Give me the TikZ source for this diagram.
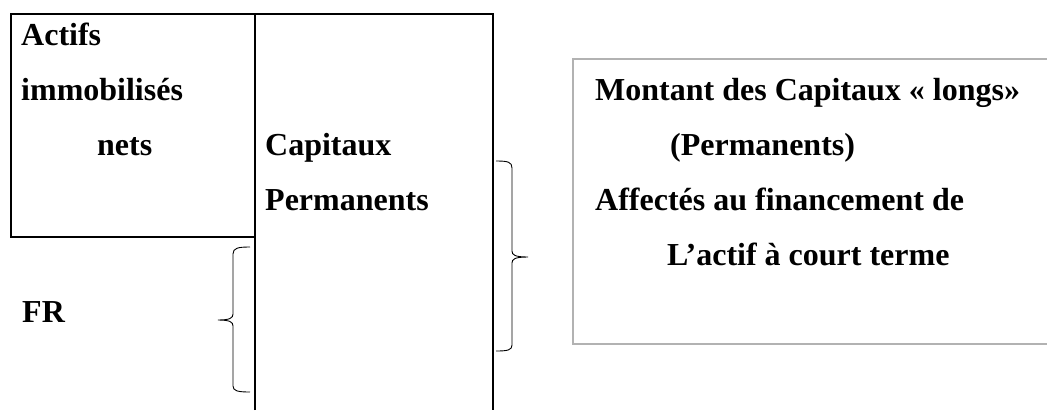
\documentclass[tikz,border=0pt]{standalone}
\usepackage{fontspec}
\setmainfont{Liberation Serif}
\begin{document}
\begin{tikzpicture}[x=1pt,y=-1pt,
  lbl/.style={anchor=base west,inner sep=0pt,font=\fontsize{32}{38}\selectfont\bfseries},
  frame/.style={line width=1.5pt,black},
  gframe/.style={line width=1.6pt,color=black!30},
  brc/.style={line width=0.9pt,black}]
\useasboundingbox (0,0) rectangle (1047,410);
% boxes
\draw[frame] (11,14) rectangle (255,237);
\draw[frame] (255,410) -- (255,14) -- (493,14) -- (493,410);
\draw[gframe] (1047,59) -- (573,59) -- (573,344) -- (1047,344);
% braces
\draw[brc] (250,247) .. controls (238,247) and (233,248) .. (233,254) -- (233,314)
  .. controls (233,318) and (230,320) .. (218,320)
  .. controls (230,320) and (233,322) .. (233,326) -- (233,386)
  .. controls (233,391) and (238,392) .. (250,392);
\draw[brc] (496,161) .. controls (508,161) and (512,162) .. (512,168) -- (512,251)
  .. controls (512,255) and (515,257) .. (528,257)
  .. controls (515,257) and (512,259) .. (512,263) -- (512,345)
  .. controls (512,350) and (508,351) .. (496,351);
% texts
\node[lbl] (a1) at (21,45) {Actifs};
\node[lbl] (a2) at (21,100) {immobilisés};
\node[lbl] (a3) at (97,155) {nets};
\node[lbl] (c1) at (265,155) {Capitaux};
\node[lbl] (c2) at (265,210) {Permanents};
\node[lbl] (fr) at (22,322) {FR};
\node[lbl] (m1) at (595,100) {Montant des Capitaux « longs»};
\node[lbl] (m2) at (670,155) {(Permanents)};
\node[lbl] (m3) at (595,210) {Affectés au financement de};
\node[lbl] (m4) at (667,265) {L’actif à court terme};
\end{tikzpicture}
\end{document}
